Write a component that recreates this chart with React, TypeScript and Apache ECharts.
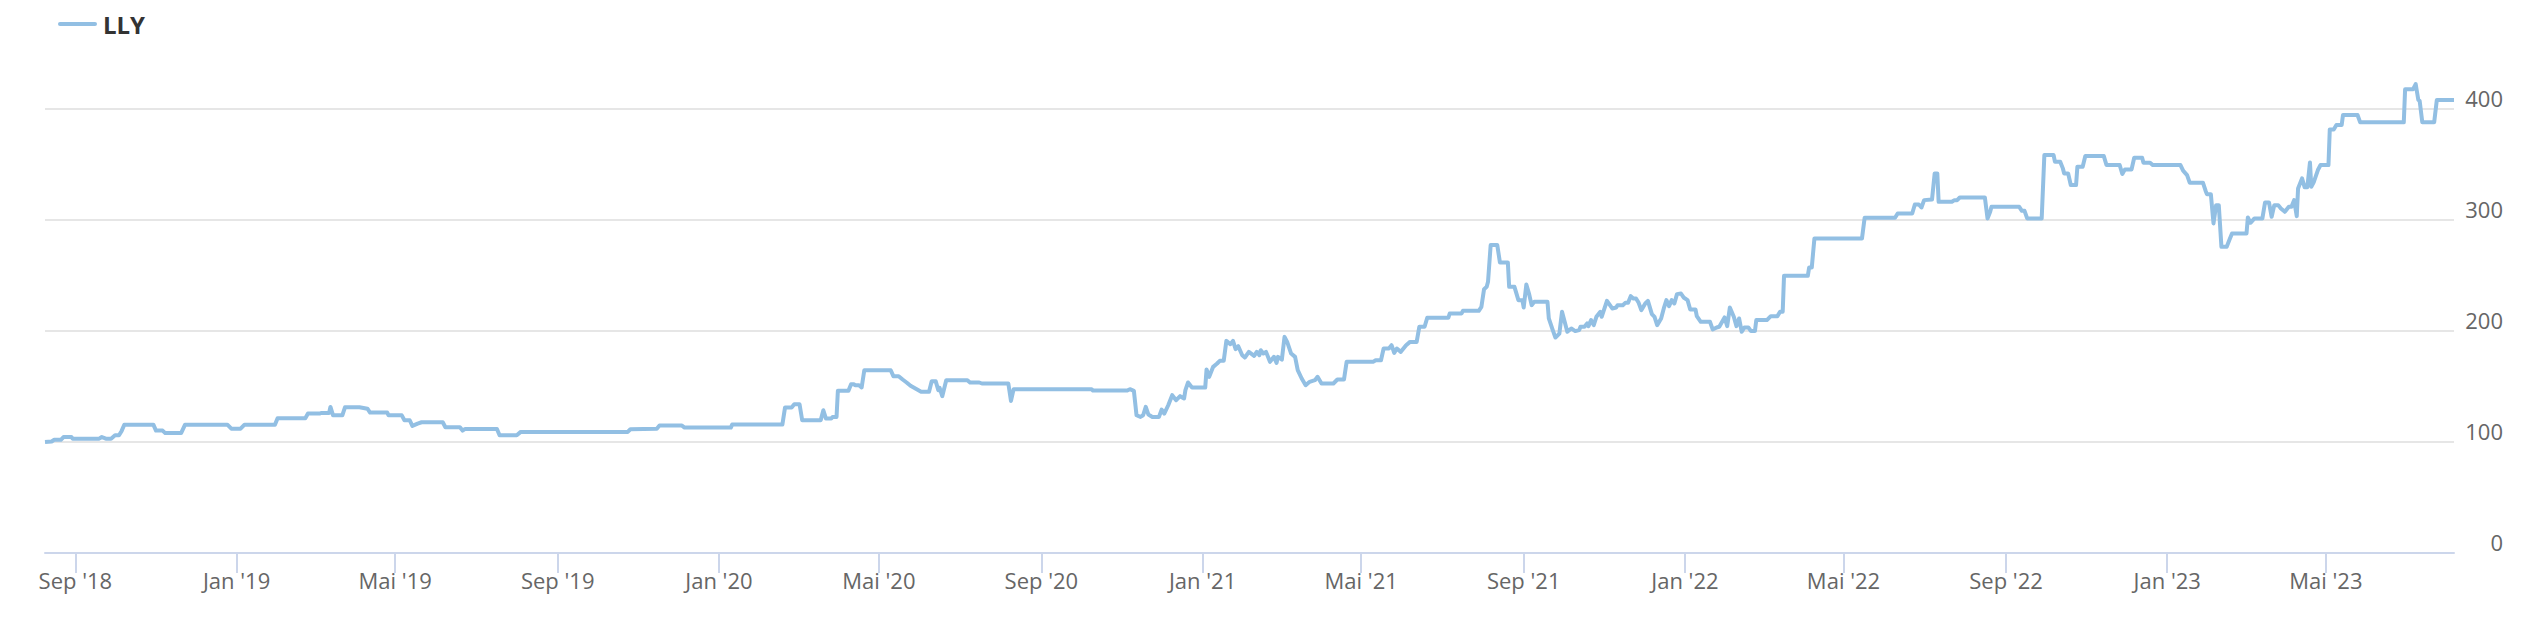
import React, { useEffect, useRef } from 'react';
import * as echarts from 'echarts';

const seriesName = 'LLY';

// [date, price]
const prices2018: [string, number][] = [
  ['2018-08-09', 100], ['2018-08-14', 100.5], ['2018-08-16', 102], ['2018-08-21', 102],
  ['2018-08-23', 104.5], ['2018-08-29', 104.5], ['2018-08-30', 103], ['2018-09-19', 103],
  ['2018-09-21', 104.5], ['2018-09-24', 103], ['2018-09-28', 103], ['2018-10-01', 106],
  ['2018-10-04', 106], ['2018-10-06', 110], ['2018-10-08', 115.6], ['2018-10-30', 115.6],
  ['2018-11-01', 110.3], ['2018-11-06', 110.3], ['2018-11-08', 108], ['2018-11-20', 108],
  ['2018-11-23', 115.6], ['2018-12-25', 115.6], ['2018-12-28', 112],
];

const prices2019: [string, number][] = [
  ['2019-01-04', 112], ['2019-01-07', 115.6], ['2019-01-30', 115.6], ['2019-02-01', 121.4],
  ['2019-02-22', 121.4], ['2019-02-24', 125.6], ['2019-03-05', 125.6], ['2019-03-06', 126.2],
  ['2019-03-12', 126.2], ['2019-03-13', 131.6], ['2019-03-15', 124], ['2019-03-22', 124],
  ['2019-03-24', 131.3], ['2019-04-04', 131.3], ['2019-04-10', 130], ['2019-04-12', 126.5],
  ['2019-04-25', 126.5], ['2019-04-26', 124], ['2019-05-06', 124], ['2019-05-08', 119.6],
  ['2019-05-12', 119.6], ['2019-05-14', 114.5], ['2019-05-18', 116.6], ['2019-05-21', 117.8],
  ['2019-06-06', 117.8], ['2019-06-08', 113.3], ['2019-06-19', 113.3], ['2019-06-21', 110.3],
  ['2019-06-23', 111.8], ['2019-07-17', 111.8], ['2019-07-19', 106.1], ['2019-08-01', 106.1],
  ['2019-08-04', 109.1], ['2019-10-24', 109.1], ['2019-10-26', 111.5], ['2019-11-15', 112],
  ['2019-11-17', 114.8], ['2019-12-04', 114.8], ['2019-12-06', 113],
];

const prices2020: [string, number][] = [
  ['2020-01-10', 113], ['2020-01-11', 115.7], ['2020-02-18', 115.7], ['2020-02-20', 131],
  ['2020-02-25', 131], ['2020-02-27', 134], ['2020-03-02', 134], ['2020-03-04', 119.6],
  ['2020-03-18', 119.6], ['2020-03-20', 128.6], ['2020-03-22', 121.1], ['2020-03-26', 121.1],
  ['2020-03-27', 122.6], ['2020-03-30', 122.6], ['2020-03-31', 146.1], ['2020-04-08', 146.1],
  ['2020-04-10', 152.1], ['2020-04-12', 152.1], ['2020-04-13', 151.2], ['2020-04-16', 151.2],
  ['2020-04-18', 149.1], ['2020-04-20', 164.7], ['2020-05-10', 164.7], ['2020-05-12', 159.3],
  ['2020-05-16', 159.3], ['2020-05-19', 156.3], ['2020-05-22', 153.6], ['2020-05-25', 150.6],
  ['2020-05-29', 147.9], ['2020-06-02', 145.2], ['2020-06-08', 145.2], ['2020-06-10', 154.8],
  ['2020-06-13', 154.8], ['2020-06-15', 146.7], ['2020-06-16', 148.8], ['2020-06-18', 141.3],
  ['2020-06-21', 155.7], ['2020-07-07', 155.7], ['2020-07-09', 153.6], ['2020-07-16', 153.6],
  ['2020-07-18', 152.7], ['2020-08-07', 152.7], ['2020-08-09', 137], ['2020-08-11', 147.6],
  ['2020-10-09', 147.6], ['2020-10-10', 146.4], ['2020-11-05', 146.4], ['2020-11-07', 147.6],
  ['2020-11-10', 146.1], ['2020-11-12', 124.1], ['2020-11-15', 122.6], ['2020-11-17', 124.1],
  ['2020-11-19', 131.6], ['2020-11-21', 124.7], ['2020-11-24', 122.6], ['2020-11-29', 122.6],
  ['2020-12-01', 129.2], ['2020-12-03', 125.6], ['2020-12-06', 133.1], ['2020-12-09', 142.2],
  ['2020-12-12', 137.7], ['2020-12-15', 141.3], ['2020-12-18', 139.2], ['2020-12-19', 146.7],
  ['2020-12-21', 153.6], ['2020-12-24', 149.1],
];

const prices2021: [string, number][] = [
  ['2021-01-03', 149.1], ['2021-01-04', 165.3], ['2021-01-06', 158.7], ['2021-01-09', 167.7],
  ['2021-01-12', 170.7], ['2021-01-14', 173.1], ['2021-01-17', 173.1], ['2021-01-19', 191.1],
  ['2021-01-22', 188.1], ['2021-01-24', 191.1], ['2021-01-26', 183.6], ['2021-01-28', 186.3],
  ['2021-01-31', 178.2], ['2021-02-02', 176.1], ['2021-02-05', 181.2], ['2021-02-09', 177.6],
  ['2021-02-11', 181.2], ['2021-02-13', 178.2], ['2021-02-14', 182.7], ['2021-02-16', 179.7],
  ['2021-02-18', 181.2], ['2021-02-21', 172.2], ['2021-02-24', 176.7], ['2021-02-26', 171.3],
  ['2021-02-27', 176.7], ['2021-03-02', 174.3], ['2021-03-04', 194.7], ['2021-03-06', 190.2],
  ['2021-03-09', 179.7], ['2021-03-12', 176.7], ['2021-03-14', 164.7], ['2021-03-17', 157.2],
  ['2021-03-20', 151.2], ['2021-03-23', 154.2], ['2021-03-27', 155.7], ['2021-03-29', 158.7],
  ['2021-04-01', 152.7], ['2021-04-10', 152.7], ['2021-04-13', 156.3], ['2021-04-18', 156.3],
  ['2021-04-20', 172.2], ['2021-05-10', 172.2], ['2021-05-12', 173.7], ['2021-05-16', 173.7],
  ['2021-05-18', 184.2], ['2021-05-22', 184.2], ['2021-05-24', 187.2], ['2021-05-26', 180.3],
  ['2021-05-28', 184.2], ['2021-05-31', 181.2], ['2021-06-02', 184.2], ['2021-06-04', 187.2],
  ['2021-06-07', 190.2], ['2021-06-12', 190.2], ['2021-06-14', 203.8], ['2021-06-18', 203.8],
  ['2021-06-20', 211.9], ['2021-07-06', 211.9], ['2021-07-07', 215.8], ['2021-07-16', 215.8],
  ['2021-07-17', 218.2], ['2021-07-29', 218.2], ['2021-07-31', 221.8], ['2021-08-02', 237.7],
  ['2021-08-04', 239.8], ['2021-08-05', 244.3], ['2021-08-07', 277.4], ['2021-08-12', 277.4],
  ['2021-08-14', 261.8], ['2021-08-20', 261.8], ['2021-08-21', 239.8], ['2021-08-25', 239.8],
  ['2021-08-28', 227.8], ['2021-08-31', 227.8], ['2021-09-01', 221.2], ['2021-09-03', 241.9],
  ['2021-09-05', 233.8], ['2021-09-07', 223.3], ['2021-09-09', 226.3], ['2021-09-19', 226.3],
  ['2021-09-20', 211.3], ['2021-09-23', 200.8], ['2021-09-25', 194.1], ['2021-09-28', 197.7],
  ['2021-09-30', 217.3], ['2021-10-02', 208.3], ['2021-10-04', 199.3], ['2021-10-07', 202.3],
  ['2021-10-10', 199.9], ['2021-10-13', 200.8], ['2021-10-14', 203.8], ['2021-10-17', 203.8],
  ['2021-10-19', 206.8], ['2021-10-20', 204.4], ['2021-10-22', 209.8], ['2021-10-24', 205.3],
  ['2021-10-26', 212.8], ['2021-10-29', 217.3], ['2021-10-30', 212.8], ['2021-11-03', 227.2],
  ['2021-11-07', 220.3], ['2021-11-10', 221.2], ['2021-11-11', 223.3], ['2021-11-15', 223.3],
  ['2021-11-17', 225.4], ['2021-11-19', 225.4], ['2021-11-21', 231.4], ['2021-11-23', 229.3],
  ['2021-11-25', 229.3], ['2021-11-27', 225.4], ['2021-11-29', 218.8], ['2021-12-02', 224.8],
  ['2021-12-04', 227.2], ['2021-12-07', 215.2], ['2021-12-09', 212.8], ['2021-12-11', 205.3],
  ['2021-12-14', 211.3], ['2021-12-16', 220.3], ['2021-12-18', 227.8], ['2021-12-20', 222.4],
  ['2021-12-22', 227.8], ['2021-12-24', 224.8], ['2021-12-26', 233.2], ['2021-12-29', 233.8],
  ['2021-12-31', 230.2],
];

const prices2022: [string, number][] = [
  ['2022-01-03', 227.8], ['2022-01-05', 219.4], ['2022-01-09', 219.4], ['2022-01-10', 213.4],
  ['2022-01-13', 208.3], ['2022-01-20', 208.3], ['2022-01-22', 201.4], ['2022-01-25', 203.2],
  ['2022-01-27', 203.8], ['2022-01-31', 212.2], ['2022-02-02', 204.4], ['2022-02-04', 221.2],
  ['2022-02-07', 212.8], ['2022-02-09', 204.4], ['2022-02-11', 211.3], ['2022-02-13', 199.3],
  ['2022-02-15', 203.2], ['2022-02-18', 203.2], ['2022-02-20', 199.9], ['2022-02-23', 199.9],
  ['2022-02-24', 209.8], ['2022-03-04', 209.8], ['2022-03-07', 213.4], ['2022-03-12', 213.4],
  ['2022-03-14', 217.3], ['2022-03-16', 217.3], ['2022-03-17', 249.7], ['2022-04-04', 249.7],
  ['2022-04-05', 257.2], ['2022-04-07', 257.2], ['2022-04-09', 283.4], ['2022-05-15', 283.4],
  ['2022-05-17', 302], ['2022-06-09', 302], ['2022-06-11', 305.9], ['2022-06-22', 305.9],
  ['2022-06-24', 314], ['2022-06-27', 314], ['2022-06-29', 311.3], ['2022-07-01', 317.9],
  ['2022-07-07', 318.5], ['2022-07-09', 342], ['2022-07-11', 342], ['2022-07-12', 316.4],
  ['2022-07-22', 316.4], ['2022-07-24', 317.9], ['2022-07-26', 317.9], ['2022-07-28', 320.3],
  ['2022-08-16', 320.3], ['2022-08-18', 301.4], ['2022-08-20', 307.4], ['2022-08-21', 311.9],
  ['2022-09-11', 311.9], ['2022-09-13', 308.3], ['2022-09-15', 308.3], ['2022-09-17', 301.4],
  ['2022-09-28', 301.4], ['2022-09-30', 358.5], ['2022-10-07', 358.5], ['2022-10-08', 352.5],
  ['2022-10-12', 352.5], ['2022-10-14', 346.5], ['2022-10-15', 342], ['2022-10-18', 342],
  ['2022-10-20', 331.5], ['2022-10-24', 331.5], ['2022-10-25', 348], ['2022-10-29', 348],
  ['2022-10-31', 357.6], ['2022-11-14', 357.6], ['2022-11-16', 349.5], ['2022-11-26', 349.5],
  ['2022-11-28', 341.4], ['2022-11-30', 345.6], ['2022-12-05', 345.6], ['2022-12-07', 356.1],
  ['2022-12-13', 356.1], ['2022-12-14', 351.6], ['2022-12-19', 351.6], ['2022-12-21', 349.5],
];

const prices2023: [string, number][] = [
  ['2023-01-11', 349.5], ['2023-01-13', 344.4], ['2023-01-16', 340.5], ['2023-01-18', 333.6],
  ['2023-01-28', 333.6], ['2023-01-30', 326.4], ['2023-01-31', 323.3], ['2023-02-03', 323.3],
  ['2023-02-05', 296.9], ['2023-02-07', 313.4], ['2023-02-09', 313.4], ['2023-02-11', 275.9],
  ['2023-02-15', 275.9], ['2023-02-17', 281.9], ['2023-02-19', 287.9], ['2023-03-02', 287.9],
  ['2023-03-03', 302.3], ['2023-03-05', 297.5], ['2023-03-08', 301.4], ['2023-03-14', 301.4],
  ['2023-03-16', 315.8], ['2023-03-19', 315.8], ['2023-03-21', 302.9], ['2023-03-23', 313.4],
  ['2023-03-26', 313.4], ['2023-03-28', 310.4], ['2023-03-31', 307.4], ['2023-04-03', 311.9],
  ['2023-04-05', 311.9], ['2023-04-07', 317.9], ['2023-04-09', 303.5], ['2023-04-10', 328.4],
  ['2023-04-13', 337.5], ['2023-04-15', 329.4], ['2023-04-17', 329.4], ['2023-04-19', 351.9],
  ['2023-04-20', 330], ['2023-04-22', 334.5], ['2023-04-25', 345], ['2023-04-27', 349.5],
  ['2023-05-03', 349.5], ['2023-05-04', 381.6], ['2023-05-07', 381.6], ['2023-05-09', 385.6],
  ['2023-05-13', 385.6], ['2023-05-14', 394.6], ['2023-05-25', 394.6], ['2023-05-27', 388],
  ['2023-06-29', 388], ['2023-06-30', 417.7], ['2023-07-06', 417.7], ['2023-07-08', 422.5],
  ['2023-07-10', 408.1], ['2023-07-11', 407.5], ['2023-07-13', 388], ['2023-07-22', 388],
  ['2023-07-24', 408.1], ['2023-08-06', 408.1],
];

const xStart = '2018-08-09';
const xEnd = '2023-08-06';

const tickDates = [
  '2018-09-01', '2019-01-01', '2019-05-01', '2019-09-01', '2020-01-01',
  '2020-05-01', '2020-09-01', '2021-01-01', '2021-05-01', '2021-09-01',
  '2022-01-01', '2022-05-01', '2022-09-01', '2023-01-01', '2023-05-01',
];
const tickLabels = [
  "Sep '18", "Jan '19", "Mai '19", "Sep '19", "Jan '20",
  "Mai '20", "Sep '20", "Jan '21", "Mai '21", "Sep '21",
  "Jan '22", "Mai '22", "Sep '22", "Jan '23", "Mai '23",
];

const yMin = 0;
const yMax = 400;
const yInterval = 100;

const lineColor = '#92bfe3';
const font = "'Open Sans', 'DejaVu Sans', sans-serif";

export default function App() {
  const ref = useRef<HTMLDivElement>(null);

  useEffect(() => {
    if (!ref.current) return;
    const chart = echarts.init(ref.current, undefined, { renderer: 'svg' });

    const allPrices = [
      ...prices2018, ...prices2019, ...prices2020,
      ...prices2021, ...prices2022, ...prices2023,
    ];
    const data = allPrices.map(([d, v]) => [Date.parse(d), v]);
    const tickValues = tickDates.map((d) => Date.parse(d));
    const findLabel = (v: number) => {
      const i = tickValues.findIndex((t) => Math.abs(t - v) < 1000);
      return i >= 0 ? tickLabels[i] : '';
    };

    chart.setOption({
      animation: false,
      backgroundColor: '#ffffff',
      textStyle: { fontFamily: font },
      legend: {
        show: true,
        left: 58,
        top: 12,
        padding: 0,
        itemWidth: 35,
        itemHeight: 4,
        selectedMode: false,
        data: [{ name: seriesName }],
        lineStyle: { width: 4, cap: 'round' },
        textStyle: {
          fontFamily: font,
          fontSize: 24,
          fontWeight: 'bold',
          color: '#333333',
          lineHeight: 24,
          padding: [0, 0, 0, 3],
        },
      },
      grid: { left: 45, right: 76, top: 109, bottom: 65, containLabel: false },
      xAxis: {
        type: 'value',
        min: Date.parse(xStart),
        max: Date.parse(xEnd),
        axisLine: { show: true, onZero: false, lineStyle: { color: '#ccd6eb', width: 2 } },
        axisTick: {
          show: true,
          length: 20,
          lineStyle: { color: '#ccd6eb', width: 2 },
          customValues: tickValues,
        },
        axisLabel: {
          customValues: tickValues,
          formatter: (v: number) => findLabel(v),
          color: '#666666',
          fontSize: 22,
          fontFamily: font,
          margin: 16,
          hideOverlap: false,
          showMinLabel: true,
          showMaxLabel: true,
        },
        splitLine: { show: false },
      },
      yAxis: {
        type: 'value',
        position: 'right',
        min: yMin,
        max: yMax,
        interval: yInterval,
        axisLine: { show: false },
        axisTick: { show: false },
        splitLine: { show: true, lineStyle: { color: '#e6e6e6', width: 2 } },
        axisLabel: {
          color: '#666666',
          fontSize: 22,
          fontFamily: font,
          align: 'right',
          verticalAlign: 'bottom',
          margin: 49,
        },
      },
      series: [
        {
          name: seriesName,
          type: 'line',
          data,
          showSymbol: false,
          symbol: 'none',
          clip: false,
          lineStyle: { color: lineColor, width: 4, join: 'round' },
          itemStyle: { color: lineColor },
        },
      ],
    });

    return () => {
      chart.dispose();
    };
  }, []);

  return (
    <div
      ref={ref}
      style={{ position: 'absolute', left: 0, top: 0, width: 2530, height: 618 }}
    />
  );
}
